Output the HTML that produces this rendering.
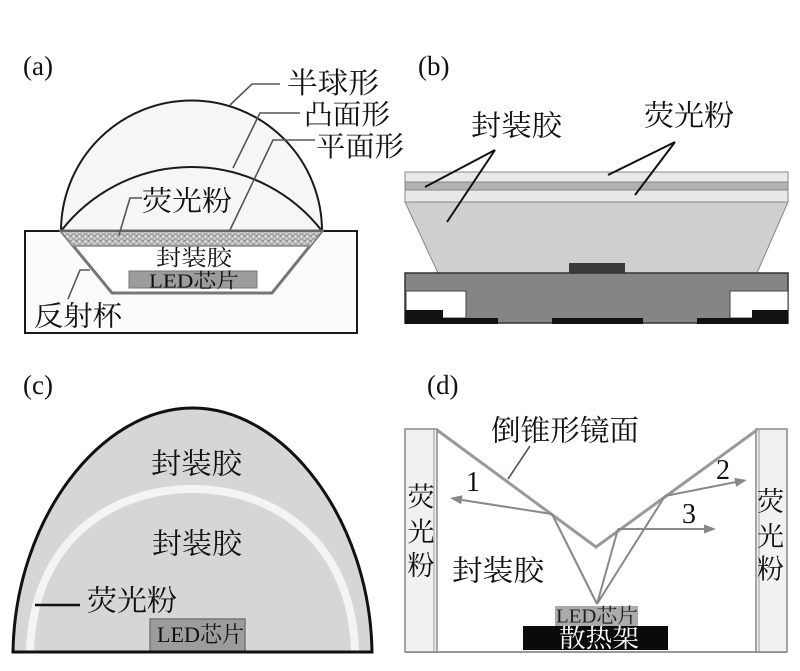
<!DOCTYPE html>
<html><head><meta charset="utf-8"><style>
html,body{margin:0;padding:0;background:#fff;}
svg{display:block;}
text{font-family:"Liberation Serif","Noto Serif CJK SC",serif;fill:#111;}
</style></head><body>
<svg width="800" height="671" viewBox="0 0 800 671" xmlns="http://www.w3.org/2000/svg">
<defs>
<pattern id="ph" width="6" height="5" patternUnits="userSpaceOnUse">
<rect width="6" height="5" fill="#a8a8a8"/>
<circle cx="1.5" cy="1.5" r="1.3" fill="#e6e6e6"/>
<circle cx="4.5" cy="3.6" r="1.2" fill="#dadada"/>
<circle cx="4.8" cy="0.8" r="0.6" fill="#777"/>
</pattern>
</defs>

<!-- ============ (a) ============ -->
<text x="23" y="75" font-size="27">(a)</text>
<rect x="25" y="231" width="332" height="102" fill="#fbfbfb" stroke="#1a1a1a" stroke-width="2"/>
<path d="M61,231 A130.5,130.5 0 0,1 322,231 Z" fill="#f6f6f6" stroke="#1a1a1a" stroke-width="2"/>
<path d="M61,231 A165,165 0 0,1 322,231" fill="none" stroke="#1a1a1a" stroke-width="2"/>
<polygon points="61,231 322,231 272,293 112,293" fill="#fff" stroke="#777" stroke-width="3"/>
<polygon points="62,232 321,232 310,246 73,246" fill="url(#ph)"/>
<line x1="73" y1="246" x2="310" y2="246" stroke="#888" stroke-width="1.5"/>
<line x1="61" y1="231" x2="322" y2="231" stroke="#666" stroke-width="2"/>
<text x="156" y="265.5" font-size="22" textLength="76" lengthAdjust="spacingAndGlyphs">封装胶</text>
<rect x="129" y="271" width="128" height="17" fill="#9c9c9c" stroke="#777" stroke-width="1"/>
<text x="149" y="287.5" font-size="20" textLength="90" lengthAdjust="spacingAndGlyphs">LED芯片</text>
<!-- leaders (a) -->
<g stroke="#555" stroke-width="1.6" fill="none">
<polyline points="230,105 252,84 280,84"/>
<polyline points="233,168 260,113 300,113"/>
<polyline points="230,230 273,140 315,140"/>
<polyline points="119,235 130,198 142,198"/>
<polyline points="90,270 80,270 68,299"/>
</g>
<text x="287" y="93" font-size="29" textLength="92" lengthAdjust="spacingAndGlyphs">半球形</text>
<text x="304" y="124" font-size="28" textLength="86" lengthAdjust="spacingAndGlyphs">凸面形</text>
<text x="316" y="156" font-size="28" textLength="88" lengthAdjust="spacingAndGlyphs">平面形</text>
<text x="142" y="210.5" font-size="28" textLength="90" lengthAdjust="spacingAndGlyphs">荧光粉</text>
<text x="34" y="325.5" font-size="28" textLength="88" lengthAdjust="spacingAndGlyphs">反射杯</text>

<!-- ============ (b) ============ -->
<text x="418" y="75" font-size="27">(b)</text>
<text x="471" y="135.5" font-size="29" textLength="91" lengthAdjust="spacingAndGlyphs">封装胶</text>
<text x="644" y="125.5" font-size="29" textLength="90" lengthAdjust="spacingAndGlyphs">荧光粉</text>
<rect x="405" y="172" width="383" height="10" fill="#e9e9e9" stroke="#888" stroke-width="1"/>
<rect x="405" y="182" width="383" height="8" fill="#b2b2b2" stroke="#888" stroke-width="1"/>
<rect x="405" y="190" width="383" height="12" fill="#e9e9e9" stroke="#888" stroke-width="1"/>
<polygon points="405,202 788,202 757,273 438,273" fill="#cfcfcf" stroke="#888" stroke-width="1"/>
<rect x="569" y="263" width="56" height="10" fill="#3a3a3a"/>
<rect x="405" y="273" width="383" height="50" fill="#858585" stroke="#333" stroke-width="1.5"/>
<rect x="406" y="291" width="60" height="27" fill="#fff" stroke="#444" stroke-width="1"/>
<rect x="405" y="310" width="38" height="8" fill="#111"/>
<rect x="405" y="318" width="93" height="6" fill="#111"/>
<rect x="552" y="318" width="91" height="6" fill="#111"/>
<rect x="730" y="291" width="58" height="27" fill="#fff" stroke="#444" stroke-width="1"/>
<rect x="752" y="310" width="36" height="8" fill="#111"/>
<rect x="697" y="318" width="91" height="6" fill="#111"/>
<g stroke="#111" stroke-width="2" fill="none">
<line x1="495" y1="150" x2="425" y2="187"/>
<line x1="495" y1="150" x2="447" y2="222"/>
<line x1="675" y1="142" x2="608" y2="175"/>
<line x1="675" y1="142" x2="635" y2="195"/>
</g>

<!-- ============ (c) ============ -->
<text x="23" y="394" font-size="27">(c)</text>
<path d="M13,652 C15,520 100,408 192.5,408 C285,408 370,520 372,652 Z" fill="#d6d6d6" stroke="#111" stroke-width="3"/>
<path d="M30,652 C33,540 112,489 192.5,489 C273,489 352,540 355,652" fill="none" stroke="#f4f4f4" stroke-width="8"/>
<text x="151" y="473.5" font-size="29" textLength="91" lengthAdjust="spacingAndGlyphs">封装胶</text>
<text x="152" y="553.5" font-size="29" textLength="90" lengthAdjust="spacingAndGlyphs">封装胶</text>
<line x1="35" y1="605" x2="80" y2="605" stroke="#111" stroke-width="2.5"/>
<text x="87" y="610.5" font-size="29" textLength="90" lengthAdjust="spacingAndGlyphs">荧光粉</text>
<rect x="150" y="619" width="95" height="33" fill="#9c9c9c" stroke="#777" stroke-width="1.5"/>
<text x="157" y="642" font-size="22" textLength="87" lengthAdjust="spacingAndGlyphs">LED芯片</text>
<line x1="12" y1="652" x2="373" y2="652" stroke="#111" stroke-width="3"/>

<!-- ============ (d) ============ -->
<text x="427" y="394" font-size="27">(d)</text>
<line x1="405" y1="652" x2="787" y2="652" stroke="#999" stroke-width="2"/>
<rect x="405" y="429" width="32" height="223" fill="#f1f1f1" stroke="#888" stroke-width="1.5"/>
<line x1="434" y1="429" x2="434" y2="652" stroke="#999" stroke-width="1"/>
<rect x="756" y="429" width="31" height="223" fill="#f1f1f1" stroke="#888" stroke-width="1.5"/>
<line x1="759" y1="429" x2="759" y2="652" stroke="#999" stroke-width="1"/>
<polyline points="437,430 596,547 757,430" fill="none" stroke="#999" stroke-width="3"/>
<g stroke="#888" stroke-width="2" fill="none">
<line x1="597" y1="604" x2="552" y2="514"/>
<line x1="597" y1="604" x2="618" y2="529"/>
<line x1="597" y1="604" x2="665" y2="496"/>
<line x1="552" y1="514" x2="462" y2="500"/>
<line x1="665" y1="496" x2="736" y2="482"/>
<line x1="618" y1="529" x2="705" y2="529"/>
<line x1="530" y1="446" x2="508" y2="479" stroke="#555" stroke-width="1.6"/>
</g>
<g fill="#888">
<polygon points="450,498 462.6,495.3 461.2,504.2"/>
<polygon points="747,480 736.1,486.7 734.3,477.9"/>
<polygon points="716,529 704,524.5 704,533.5"/>
</g>
<text x="466" y="491" font-size="28">1</text>
<text x="716" y="479" font-size="28">2</text>
<text x="682" y="523" font-size="28">3</text>
<text x="491" y="440.5" font-size="29" textLength="148" lengthAdjust="spacingAndGlyphs">倒锥形镜面</text>
<text x="452" y="580.5" font-size="29" textLength="92" lengthAdjust="spacingAndGlyphs">封装胶</text>
<g font-size="27" text-anchor="middle">
<text x="421" y="506.5">荧</text>
<text x="421" y="541.5">光</text>
<text x="421" y="575">粉</text>
<text x="770.5" y="511">荧</text>
<text x="770.5" y="546">光</text>
<text x="770.5" y="578.5">粉</text>
</g>
<rect x="555" y="606" width="83" height="20" fill="#ababab"/>
<text x="556" y="622.5" font-size="20" textLength="82" lengthAdjust="spacingAndGlyphs" style="fill:#222">LED芯片</text>
<rect x="523" y="626" width="145" height="24" fill="#0a0a0a"/>
<text x="559" y="647" font-size="25" textLength="80" lengthAdjust="spacingAndGlyphs" style="fill:#fff">散热架</text>
</svg>
</body></html>
